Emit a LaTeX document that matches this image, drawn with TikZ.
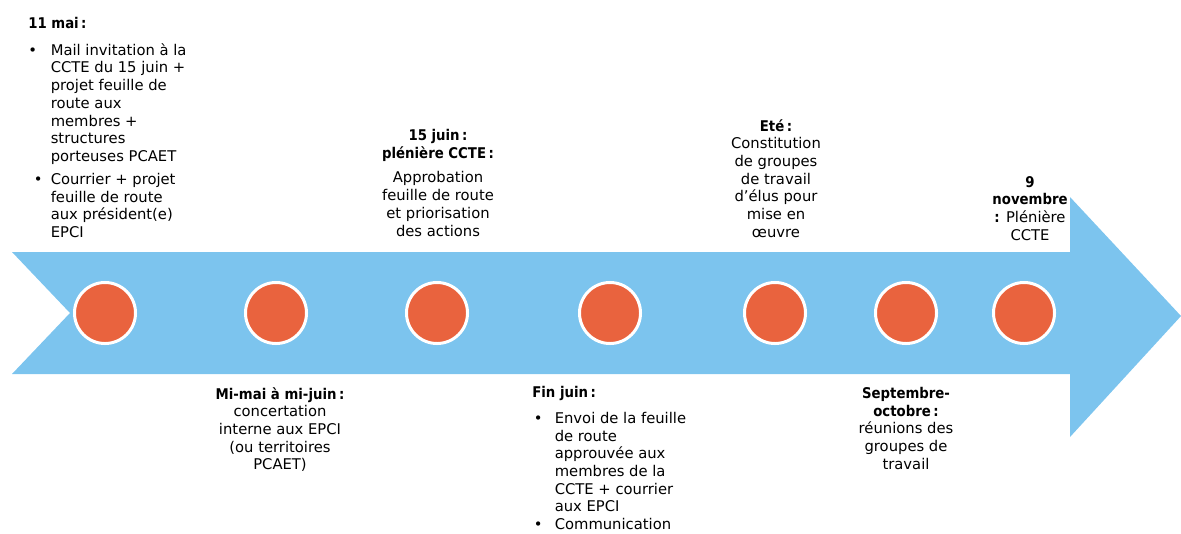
\documentclass[tikz,border=0pt]{standalone}
\usepackage{fontspec}
\setmainfont{DejaVu Sans}[BoldFeatures={FakeStretch=0.9}]
\usepackage{tikz}

\definecolor{fleche}{RGB}{124,196,238}
\definecolor{pastille}{RGB}{233,99,62}
\newcommand{\puce}[1][0pt]{\makebox[16pt][l]{\hspace*{#1}\textbullet}}
\newcommand{\retrait}{\hspace*{16pt}}

\begin{document}
\begin{tikzpicture}[x=0.025cm, y=-0.025cm,
        dot/.style={circle, fill=pastille, draw=white, line width=0.075cm,
                    minimum size=1.525cm, inner sep=0pt},
        etiq/.style={inner sep=0pt, align=center, anchor=north,
                     font=\fontsize{10.5}{12.6}\selectfont},
        liste/.style={etiq, align=left, anchor=north west}]
            \useasboundingbox (0,0) rectangle (1181,533);
            % la fleche
            \fill[fleche] (12,252) -- (1070,252) -- (1070,197) -- (1181,316)
                -- (1070,437) -- (1070,374) -- (12,374) -- (70,313) -- cycle;
            % les pastilles
            \node[dot] (mai)     at (105,313)  {};
            \node[dot] (mimai)   at (276,313)  {};
            \node[dot] (juin)    at (437,313)  {};
            \node[dot] (finjuin) at (610,313)  {};
            \node[dot] (ete)     at (775,313)  {};
            \node[dot] (sept)    at (906,313)  {};
            \node[dot] (nov)     at (1024,313) {};
            % au-dessus
            \node[liste] (tmai) at (28,17) {\textbf{11 mai\,:}\\[6.4pt]
                \puce Mail invitation à la\\ \retrait CCTE du 15 juin +\\
                \retrait projet feuille de\\ \retrait route aux\\
                \retrait membres +\\ \retrait structures\\
                \retrait porteuses PCAET\\[3.6pt]
                \puce[4pt]Courrier + projet\\ \retrait feuille de route\\
                \retrait aux président(e)\\ \retrait EPCI};
            \node[etiq] (tjuin) at (438,129) {\textbf{15 juin\,:}\\
                \textbf{plénière CCTE\,:}\\[5pt] Approbation\\
                feuille de route\\ et priorisation\\ des actions};
            \node[etiq] (tete) at (776,119) {\textbf{Eté\,:}\\ Constitution\\
                de groupes\\ de travail\\ d’élus pour\\ mise en\\ œuvre};
            \node[etiq] (tnov) at (1030,176) {\textbf{9}\\ \textbf{novembre}\\
                \textbf{:} Plénière\\ CCTE};
            % en dessous
            \node[etiq] (tmimai) at (280,387) {\textbf{Mi-mai à mi-juin\,:}\\
                concertation\\ interne aux EPCI\\ (ou territoires\\ PCAET)};
            \node[liste] (tfinjuin) at (532,386) {\textbf{Fin juin\,:}\\[5.8pt]
                \puce[1.2pt]Envoi de la feuille\\ \retrait de route\\
                \retrait approuvée aux\\ \retrait membres de la\\
                \retrait CCTE + courrier\\ \retrait aux EPCI\\
                \puce[1.2pt]Communication};
            \node[etiq] (tsept) at (906,387) {\textbf{Septembre-}\\
                \textbf{octobre\,:}\\ réunions des\\ groupes de\\ travail};
        \end{tikzpicture}
\end{document}
